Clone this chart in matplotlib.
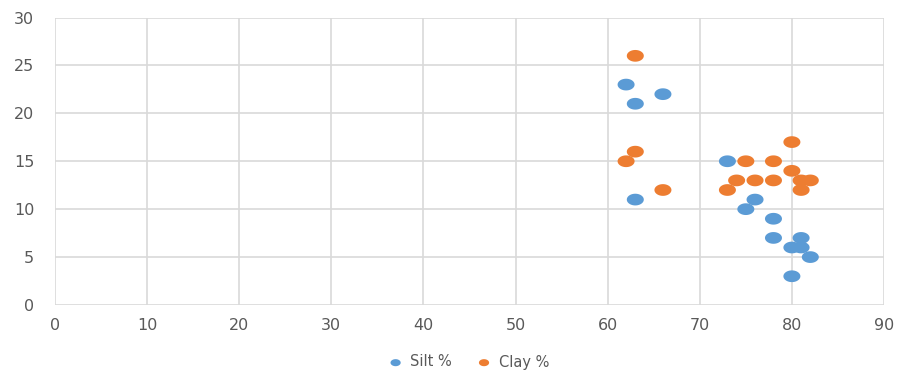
import matplotlib
matplotlib.use("Agg")
import matplotlib.pyplot as plt
from matplotlib.path import Path
import numpy as np

silt_x = [62, 63, 66, 63, 73, 76, 75, 78, 78, 81, 80, 81, 82, 80]
silt_y = [23, 21, 22, 11, 15, 11, 10, 9, 7, 7, 6, 6, 5, 3]
clay_x = [63, 63, 62, 66, 80, 75, 78, 80, 74, 76, 78, 81, 82, 73, 81]
clay_y = [26, 16, 15, 12, 17, 15, 15, 14, 13, 13, 13, 13, 13, 12, 12]
x_ticks = [0, 10, 20, 30, 40, 50, 60, 70, 80, 90]
y_ticks = [0, 5, 10, 15, 20, 25, 30]

t = np.linspace(0, 2 * np.pi, 60)
ell = Path(np.column_stack([1.45 * np.cos(t), np.sin(t)]), closed=True)

fig = plt.figure(figsize=(8.99, 3.75), dpi=100)
ax = fig.add_axes([55 / 899, 1 - 305 / 375, (884 - 55) / 899, (305 - 17.5) / 375])

blue = "#5B9BD5"
orange = "#ED7D31"
ax.scatter(silt_x, silt_y, marker=ell, s=150, color=blue, edgecolors="none", label="Silt %", zorder=3)
ax.scatter(clay_x, clay_y, marker=ell, s=150, color=orange, edgecolors="none", label="Clay %", zorder=3)

ax.set_xlim(0, 90)
ax.set_ylim(0, 30)
ax.set_xticks(x_ticks)
ax.set_yticks(y_ticks)
ax.grid(True, color="#D9D9D9", linewidth=1.2)
ax.set_axisbelow(True)
for s in ax.spines.values():
    s.set_visible(False)
ax.tick_params(length=0, labelsize=11.5, labelcolor="#595959")
ax.tick_params(axis="x", pad=9)
ax.tick_params(axis="y", pad=15)

leg = fig.legend(loc="center", bbox_to_anchor=(465 / 899, 1 - 362 / 375), ncol=2, frameon=False,
                 fontsize=10.5, labelcolor="#595959", handletextpad=0.0, columnspacing=1.2,
                 markerscale=0.6)

fig.savefig("out.png", dpi=100)
